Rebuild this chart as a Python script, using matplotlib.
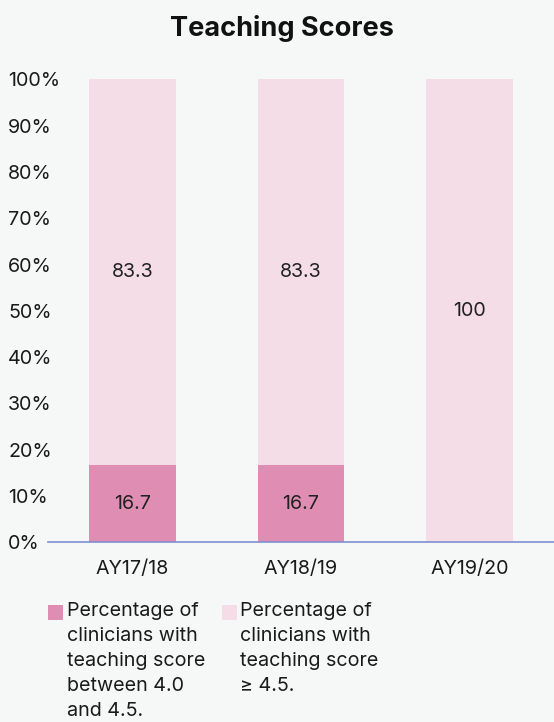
import matplotlib
matplotlib.use("Agg")
import matplotlib.pyplot as plt
from matplotlib.patches import Rectangle

plt.rcParams['font.family'] = ['Inter', 'DejaVu Sans']

categories = ["AY17/18", "AY18/19", "AY19/20"]
between_40_45 = [16.7, 16.7, 0]
at_least_45 = [83.3, 83.3, 100]
y_ticks = [0, 10, 20, 30, 40, 50, 60, 70, 80, 90, 100]
y_tick_labels = [f"{v}%" for v in y_ticks]
legend_labels = [
    "Percentage of\nclinicians with\nteaching score\nbetween 4.0\nand 4.5.",
    "Percentage of\nclinicians with\nteaching score\n\u2265 4.5.",
]
title = "Teaching Scores"

dark = "#E08DB3"
light = "#F5DDE7"
bg = "#F6F7F7"
txt = "#1a1a1a"
FS = 14.2

W, H = 554, 722
fig = plt.figure(figsize=(W / 100, H / 100), dpi=100, facecolor=bg)
ax = fig.add_axes([48 / W, (H - 542.3) / H, (W - 48) / W, (542.3 - 79.3) / H])
ax.set_facecolor("none")

x = list(range(len(categories)))
bw = 0.513
ax.bar(x, between_40_45, width=bw, color=dark, zorder=2)
ax.bar(x, at_least_45, width=bw, bottom=between_40_45, color=light, zorder=2)

for i in x:
    if between_40_45[i] > 0:
        ax.text(i, between_40_45[i] / 2, f"{between_40_45[i]:g}", ha="center",
                va="center", fontsize=FS, color="#222222", zorder=3)
    if at_least_45[i] > 0:
        ax.text(i, between_40_45[i] + at_least_45[i] / 2, f"{at_least_45[i]:g}",
                ha="center", va="center", fontsize=FS, color="#222222", zorder=3)

ax.set_xlim(-0.5, 2.5)
ax.set_ylim(0, 100)
ax.set_yticks(y_ticks)
ax.set_yticklabels(y_tick_labels, fontsize=FS, color=txt)
for lab in ax.get_yticklabels():
    lab.set_horizontalalignment("left")
ax.tick_params(axis="y", length=0, pad=(48 - 8) * 0.72)
ax.set_xticks(x)
ax.set_xticklabels(categories, fontsize=FS, color=txt)
ax.tick_params(axis="x", length=0, pad=12.5)

for s in ["top", "right", "left"]:
    ax.spines[s].set_visible(False)
ax.spines["bottom"].set_color("#7F8FD0")
ax.spines["bottom"].set_linewidth(1.2)
ax.spines["bottom"].set_zorder(4)

fig.text(281.5 / W, 1 - 28 / H, title, ha="center", va="center",
         fontsize=19.5, fontweight="bold", color="#111111")

# legend
leg_items = [(48.3, dark, 67, legend_labels[0]), (222, light, 240, legend_labels[1])]
for sx, col, tx, lab in leg_items:
    fig.add_artist(Rectangle((sx / W, 1 - 620 / H), 15 / W, 15 / H,
                             transform=fig.transFigure, facecolor=col,
                             edgecolor="none"))
    fig.text(tx / W, 1 - 602 / H, lab, ha="left", va="top", fontsize=FS,
             linespacing=1.5, color=txt)

fig.savefig("out.png", dpi=100, facecolor=bg)
